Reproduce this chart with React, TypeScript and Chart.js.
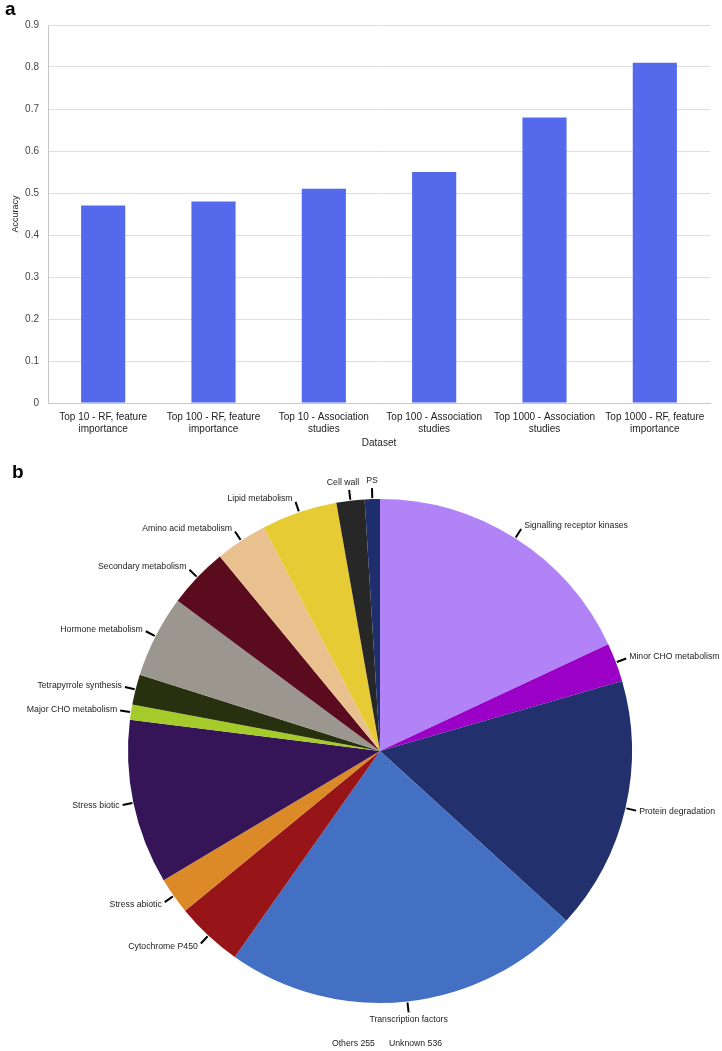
import { useEffect, useRef } from "react";
import { Chart, registerables } from "chart.js";

Chart.register(...registerables);

const FONT = "'Liberation Sans', Arial, sans-serif";

// ---- Panel a: bar chart ----
const datasetLabels: string[][] = [
  ["Top 10 - RF, feature", "importance"],
  ["Top 100 - RF, feature", "importance"],
  ["Top 10 - Association", "studies"],
  ["Top 100 - Association", "studies"],
  ["Top 1000 - Association", "studies"],
  ["Top 1000 - RF, feature", "importance"],
];
const accuracyValues = [0.47, 0.48, 0.51, 0.55, 0.68, 0.81];
const yTickLabels = ["0", "0.1", "0.2", "0.3", "0.4", "0.5", "0.6", "0.7", "0.8", "0.9"];
const barColor = "#5469EB";

// ---- Panel b: pie chart ----
const pieCategories = [
  "Signalling receptor kinases",
  "Minor CHO metabolism",
  "Protein degradation",
  "Transcription factors",
  "Cytochrome P450",
  "Stress abiotic",
  "Stress biotic",
  "Major CHO metabolism",
  "Tetrapyrrole synthesis",
  "Hormone metabolism",
  "Secondary metabolism",
  "Amino acid metabolism",
  "Lipid metabolism",
  "Cell wall",
  "PS",
];
const pieValues = [65, 9, 58.5, 83, 15.5, 8.5, 38, 3.5, 7, 19, 14, 12, 17.5, 6.5, 3.5];
const pieColors = [
  "#B283F7",
  "#9B00C6",
  "#22306E",
  "#4470C4",
  "#971518",
  "#DC8A28",
  "#351457",
  "#A5CB2A",
  "#28310F",
  "#9C978E",
  "#5A0B1E",
  "#E9C18E",
  "#E7CB35",
  "#272727",
  "#1F2F6E",
];
const footerNotes = ["Others 255", "Unknown 536"];

type LabelBox = { text: string; x: number; y: number; align: CanvasTextAlign; base: CanvasTextBaseline; w: number; top: boolean };

const pieLabelPlugin = {
  id: "pieLabels",
  afterDraw(chart: any) {
    const ctx = chart.ctx as CanvasRenderingContext2D;
    const meta = chart.getDatasetMeta(0);
    const labels = chart.data.labels as string[];
    ctx.save();
    ctx.font = `8.7px ${FONT}`;
    ctx.fillStyle = "#222";
    ctx.strokeStyle = "#000";
    ctx.lineWidth = 2;
    let cx = 0, cy = 0, R = 0;
    const boxes: LabelBox[] = [];
    meta.data.forEach((arc: any, i: number) => {
      const p = arc.getProps(["x", "y", "startAngle", "endAngle", "outerRadius"], true);
      cx = p.x; cy = p.y; R = p.outerRadius;
      const mid = (p.startAngle + p.endAngle) / 2;
      const c = Math.cos(mid), s = Math.sin(mid);
      const x1 = p.x + c * (R + 1), y1 = p.y + s * (R + 1);
      const x2 = p.x + c * (R + 11), y2 = p.y + s * (R + 11);
      ctx.beginPath();
      ctx.moveTo(x1, y1);
      ctx.lineTo(x2, y2);
      ctx.stroke();
      const w = ctx.measureText(labels[i]).width;
      if (Math.abs(c) < 0.22) {
        if (s < 0) {
          boxes.push({ text: labels[i], x: x2, y: y2 - 3, align: "center", base: "bottom", w, top: true });
        } else {
          boxes.push({ text: labels[i], x: x2, y: y2 + 3, align: "center", base: "top", w, top: false });
        }
      } else {
        boxes.push({
          text: labels[i],
          x: x2 + (c > 0 ? 3 : -3),
          y: y2 + s * 4,
          align: c > 0 ? "left" : "right",
          base: "middle",
          w,
          top: false,
        });
      }
    });
    // resolve overlap of centred labels at the top (push left ones leftwards)
    const tops = boxes.filter((b) => b.top).sort((a, b) => b.x - a.x);
    for (let i = 1; i < tops.length; i++) {
      const right = tops[i - 1];
      const left = tops[i];
      const minGap = 7;
      const rightEdgeOfLeft = left.x + left.w / 2;
      const leftEdgeOfRight = right.x - right.w / 2;
      if (rightEdgeOfLeft > leftEdgeOfRight - minGap) {
        left.x -= rightEdgeOfLeft - (leftEdgeOfRight - minGap);
      }
    }
    boxes.forEach((b) => {
      ctx.textAlign = b.align;
      ctx.textBaseline = b.base;
      ctx.fillText(b.text, b.x, b.y);
    });
    // footer notes
    const gap = 14;
    const widths = footerNotes.map((t) => ctx.measureText(t).width);
    const total = widths.reduce((a, b) => a + b, 0) + gap * (footerNotes.length - 1);
    let x = cx + 7 - total / 2;
    ctx.textAlign = "left";
    ctx.textBaseline = "middle";
    footerNotes.forEach((t, i) => {
      ctx.fillText(t, x, cy + R + 41);
      x += widths[i] + gap;
    });
    ctx.restore();
  },
};

export default function App() {
  const barRef = useRef<HTMLCanvasElement | null>(null);
  const pieRef = useRef<HTMLCanvasElement | null>(null);

  useEffect(() => {
    if (!barRef.current || !pieRef.current) return;
    const bar = new Chart(barRef.current, {
      type: "bar",
      data: {
        labels: datasetLabels as any,
        datasets: [
          {
            data: accuracyValues,
            backgroundColor: barColor,
            borderWidth: 0,
            barPercentage: 0.4,
            categoryPercentage: 1,
          },
        ],
      },
      options: {
        responsive: false,
        animation: false,
        layout: { padding: { left: 0, right: 12, top: 25, bottom: 0 } },
        plugins: { legend: { display: false }, tooltip: { enabled: false } },
        scales: {
          x: {
            grid: { display: false, drawTicks: false },
            border: { display: true, color: "#c8c8c8" },
            ticks: {
              color: "#222",
              font: { family: FONT, size: 10 },
              padding: 8,
              maxRotation: 0,
              autoSkip: false,
            },
            title: {
              display: true,
              text: "Dataset",
              color: "#222",
              font: { family: FONT, size: 10 },
              padding: { top: 2, bottom: 6 },
            },
            afterFit: (s: any) => {
              s.height = 52;
            },
          },
          y: {
            min: 0,
            max: 0.9,
            ticks: {
              stepSize: 0.1,
              color: "#444",
              font: { family: FONT, size: 10 },
              padding: 9,
              callback: (_v: any, i: number) => yTickLabels[i],
            },
            grid: { color: "#dedede", drawTicks: false },
            border: { display: true, color: "#c8c8c8" },
            title: {
              display: true,
              text: "Accuracy",
              color: "#222",
              font: { family: FONT, size: 9 },
              padding: { top: 10, bottom: 0 },
            },
            afterFit: (s: any) => {
              s.width = 48;
            },
          },
        },
      },
    });

    const pie = new Chart(pieRef.current, {
      type: "pie",
      data: {
        labels: pieCategories,
        datasets: [{ data: pieValues, backgroundColor: pieColors, borderWidth: 0 }],
      },
      options: {
        responsive: false,
        animation: false,
        layout: { padding: { left: 128, right: 90, top: 38, bottom: 47 } },
        plugins: { legend: { display: false }, tooltip: { enabled: false } },
      },
      plugins: [pieLabelPlugin],
    });

    return () => {
      bar.destroy();
      pie.destroy();
    };
  }, []);

  const letterStyle: React.CSSProperties = {
    position: "absolute",
    fontFamily: FONT,
    fontWeight: "bold",
    fontSize: 19,
    lineHeight: "19px",
    color: "#000",
  };

  return (
    <div style={{ position: "absolute", left: 0, top: 0, width: 722, height: 1051, background: "#fff" }}>
      <canvas
        ref={barRef}
        width={722}
        height={455}
        style={{ position: "absolute", left: 0, top: 0, display: "block" }}
      />
      <canvas
        ref={pieRef}
        width={722}
        height={591}
        style={{ position: "absolute", left: 0, top: 460, display: "block" }}
      />
      <div style={{ ...letterStyle, left: 5, top: -1 }}>a</div>
      <div style={{ ...letterStyle, left: 12, top: 462 }}>b</div>
    </div>
  );
}
